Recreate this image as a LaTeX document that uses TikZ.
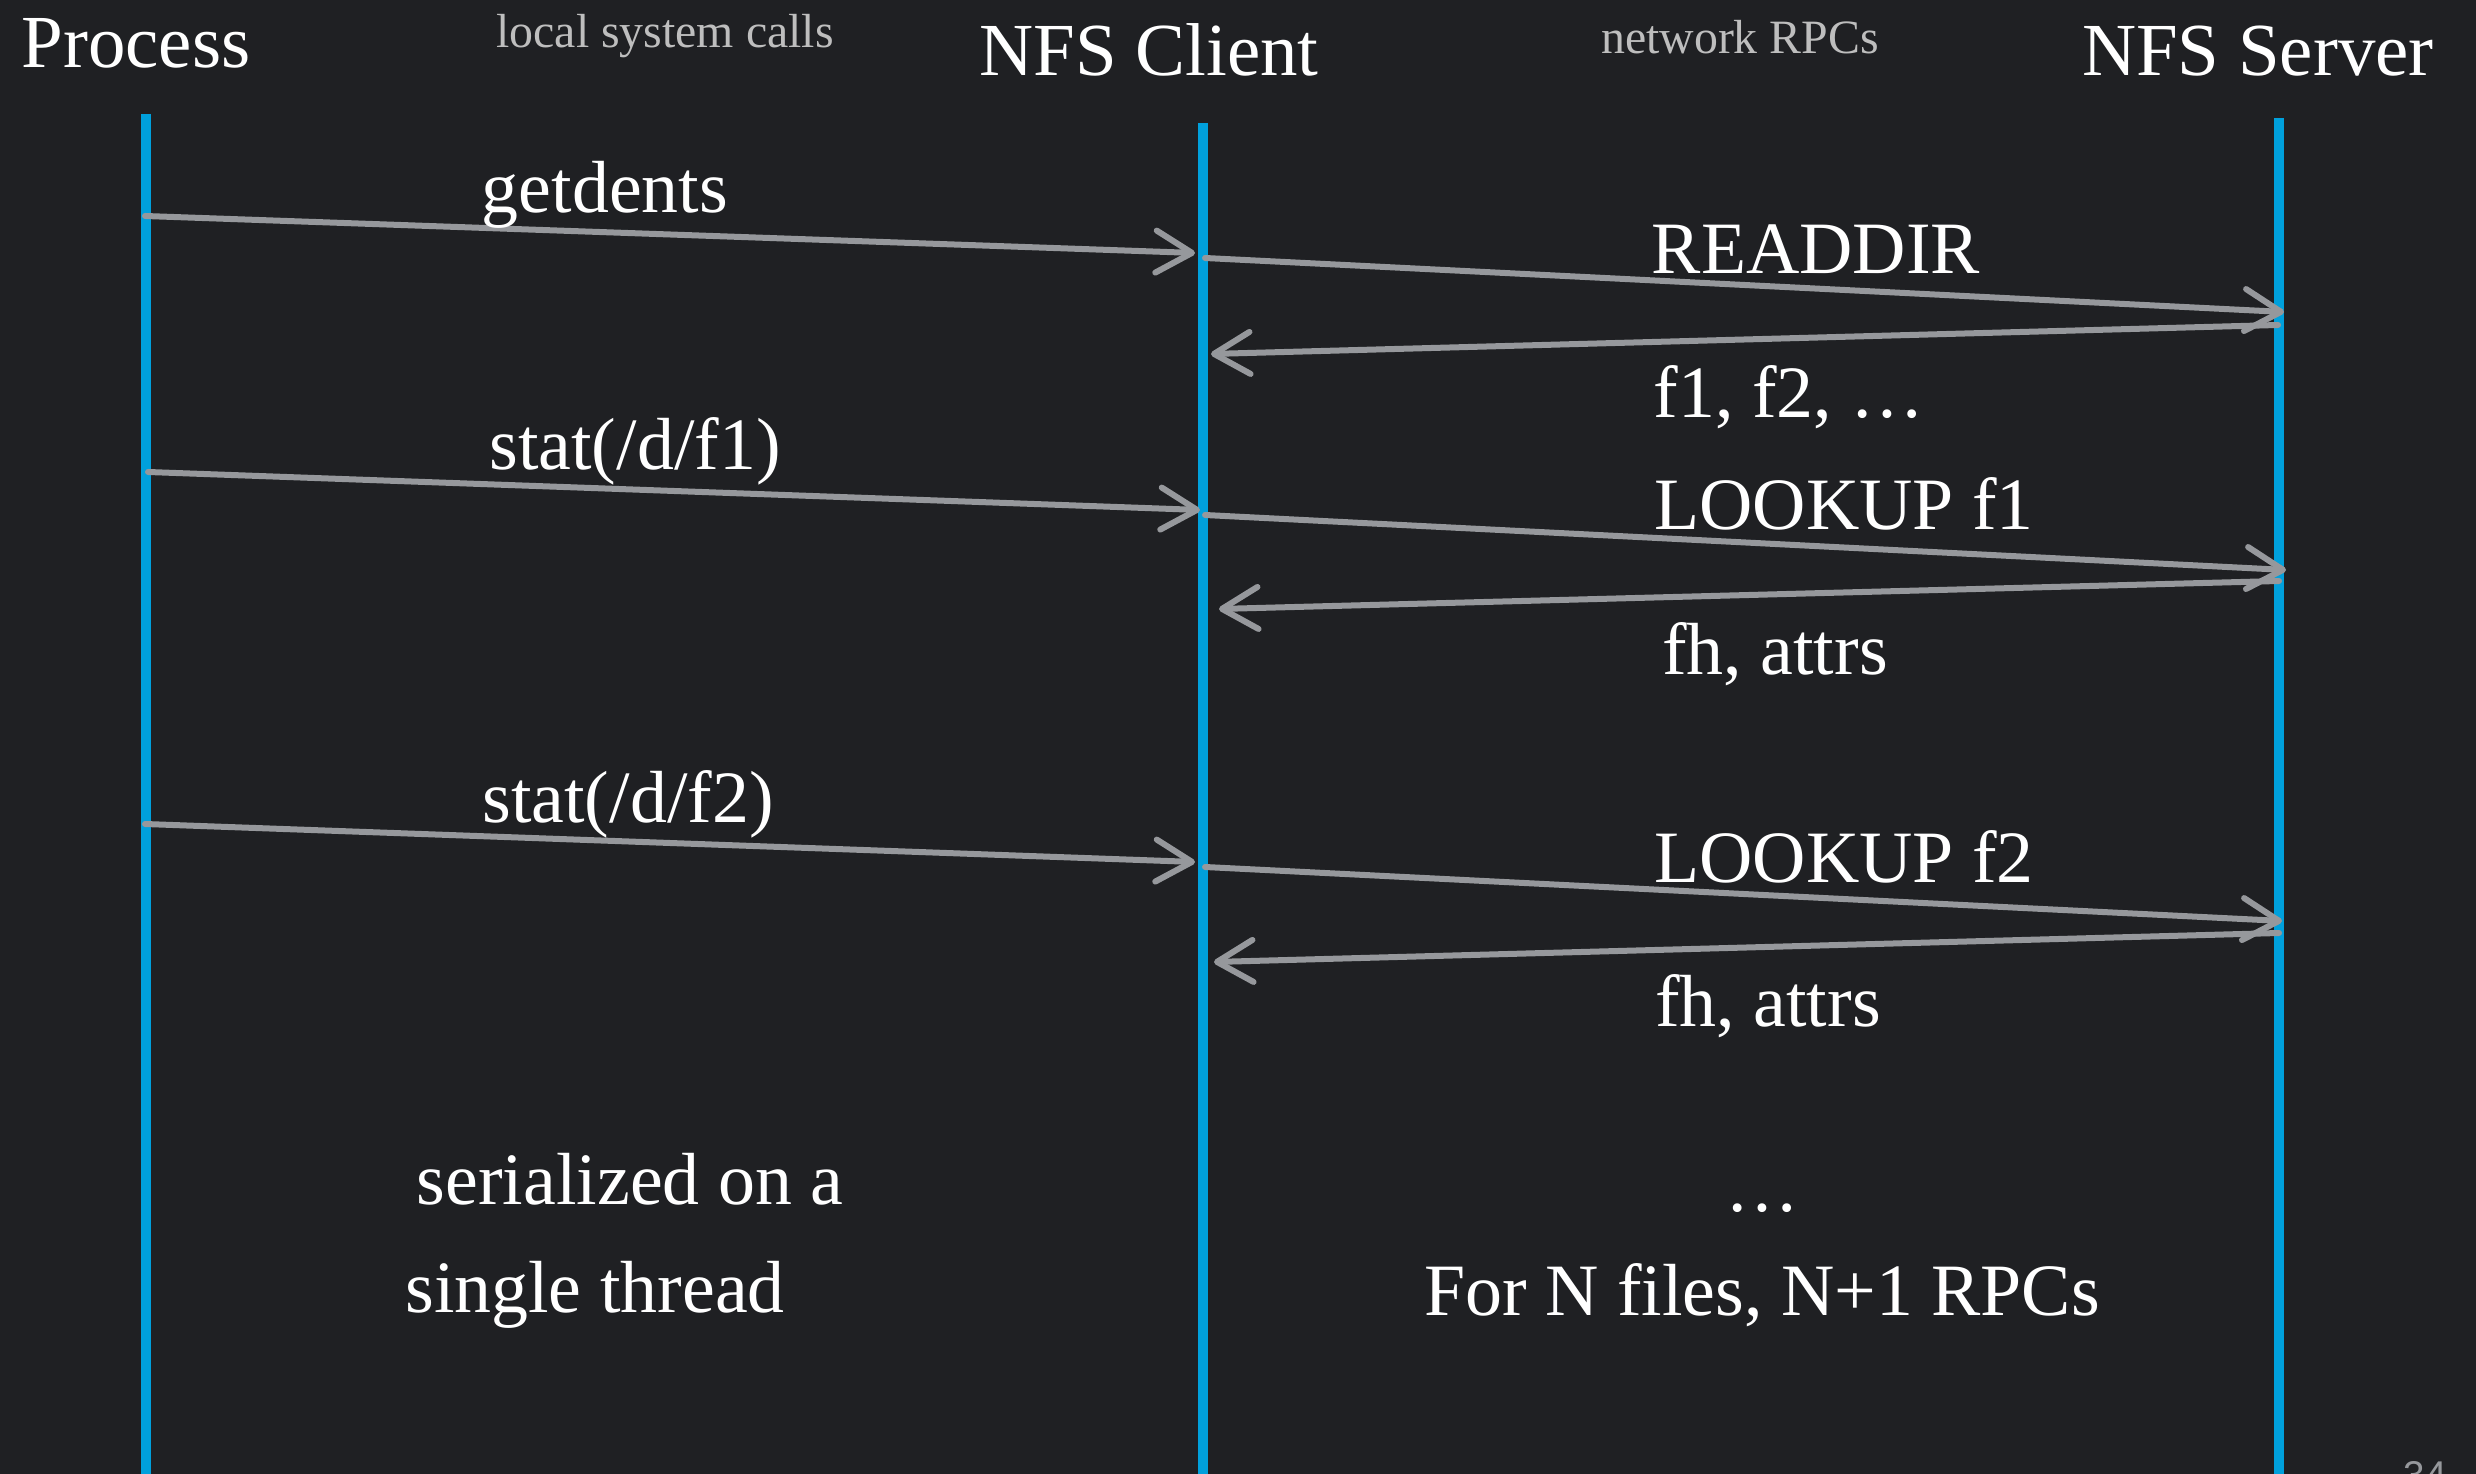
\documentclass[tikz,border=0pt]{standalone}
\usepackage{fontspec}
\setmainfont{Liberation Serif}
\newfontfamily\pagenumfont{Liberation Sans}
\usetikzlibrary{arrows.meta}

\definecolor{slidebg}{RGB}{31,32,35}
\definecolor{lifeblue}{RGB}{0,160,220}
\definecolor{msggrey}{RGB}{150,152,156}
\definecolor{notegrey}{RGB}{190,190,190}

\tikzset{
  lifeline/.style={draw=lifeblue, line width=0.1cm},
  msg/.style={draw=msggrey, line width=0.06cm, line cap=round,
    -{Straight Barb[length=0.36cm, width=0.42cm, round]}},
  heading/.style={text=white, font=\fontsize{21.3}{25}\selectfont, anchor=base, inner sep=0pt},
  label/.style={text=white, font=\fontsize{21}{25}\selectfont, anchor=base, inner sep=0pt},
  note/.style={text=notegrey, font=\fontsize{13.6}{16}\selectfont, anchor=base, inner sep=0pt},
}

\begin{document}
\begin{tikzpicture}[x=0.01cm, y=-0.01cm]
  % canvas
  \fill[slidebg] (0,0) rectangle (2476,1474);
  \useasboundingbox (0,0) rectangle (2476,1474);

  % column headings
  \node[heading] (hproc) at (136,68) {Process};
  \node[heading] (hclient) at (1149,76) {NFS Client};
  \node[heading] (hserver) at (2258,76) {NFS Server};
  \node[note] (nlocal) at (665,48) {local system calls};
  \node[note] (nnet) at (1740,54) {network RPCs};

  % lifelines
  \coordinate (proctop) at (146,114);
  \coordinate (procbot) at (146,1480);
  \coordinate (clitop) at (1203,123);
  \coordinate (clibot) at (1203,1480);
  \coordinate (srvtop) at (2279,118);
  \coordinate (srvbot) at (2279,1480);
  \draw[lifeline] (proctop) -- (procbot);
  \draw[lifeline] (clitop) -- (clibot);
  \draw[lifeline] (srvtop) -- (srvbot);

  % message end points on the lifelines
  \coordinate (p1) at (145,216);  \coordinate (c1in) at (1195,253);
  \coordinate (c1out) at (1205,258); \coordinate (s1in) at (2284,312);
  \coordinate (s1out) at (2278,325); \coordinate (c1back) at (1211,354);

  \coordinate (p2) at (148,472);  \coordinate (c2in) at (1200,510);
  \coordinate (c2out) at (1205,515); \coordinate (s2in) at (2286,570);
  \coordinate (s2out) at (2279,581); \coordinate (c2back) at (1219,609);

  \coordinate (p3) at (145,824);  \coordinate (c3in) at (1195,862);
  \coordinate (c3out) at (1205,867); \coordinate (s3in) at (2282,921);
  \coordinate (s3out) at (2279,933); \coordinate (c3back) at (1214,962);

  % messages
  \draw[msg] (p1) -- (c1in);
  \draw[msg] (c1out) -- (s1in);
  \draw[msg] (s1out) -- (c1back);

  \draw[msg] (p2) -- (c2in);
  \draw[msg] (c2out) -- (s2in);
  \draw[msg] (s2out) -- (c2back);

  \draw[msg] (p3) -- (c3in);
  \draw[msg] (c3out) -- (s3in);
  \draw[msg] (s3out) -- (c3back);

  % message labels
  \node[label] (lgetdents) at (605,213) {getdents};
  \node[label] (lreaddir) at (1816,274) {READDIR};
  \node[label] (lnames) at (1789,418) {f1, f2, …};

  \node[label] (lstat1) at (635,470) {stat(/d/f1)};
  \node[label] (llookup1) at (1844,530) {LOOKUP f1};
  \node[label] (lattrs1) at (1775,675) {fh, attrs};

  \node[label] (lstat2) at (628,823) {stat(/d/f2)};
  \node[label] (llookup2) at (1844,883) {LOOKUP f2};
  \node[label] (lattrs2) at (1768,1027) {fh, attrs};

  % closing remarks
  \node[label] (lser1) at (630,1205) {serialized on a};
  \node[label] (lser2) at (595,1312) {single thread};
  \node[label] (ldots) at (1762,1211) {…};
  \node[label] (lcount) at (1762,1315) {For N files, N+1 RPCs};

  % page number
  \node[text=msggrey, font=\pagenumfont\fontsize{11}{13}\selectfont, anchor=north west, inner sep=0pt]
    (pagenum) at (2403,1461) {34};
\end{tikzpicture}
\end{document}
